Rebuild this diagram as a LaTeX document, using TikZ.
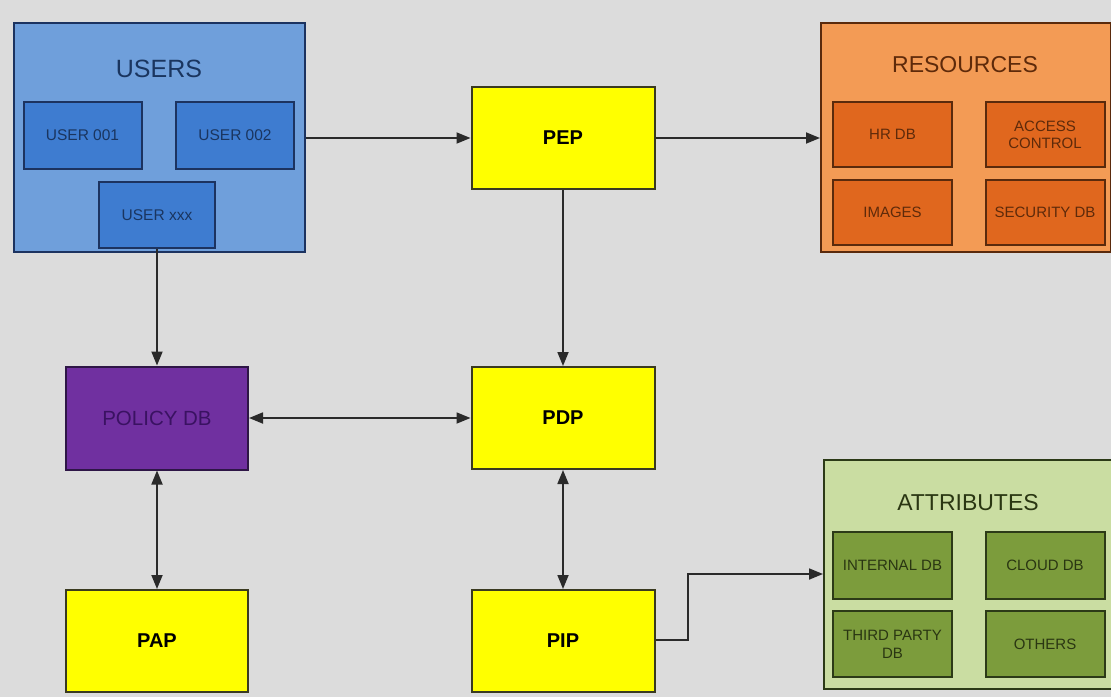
\documentclass[tikz,border=0pt]{standalone}
\usepackage{fontspec}
\setmainfont{Liberation Sans}
\usetikzlibrary{arrows.meta}

\definecolor{bg}{HTML}{DCDCDC}
\definecolor{usrout}{HTML}{6F9FDB}
\definecolor{usrin}{HTML}{3E7CD0}
\definecolor{usrline}{HTML}{1C3360}
\definecolor{usrtext}{HTML}{1A355F}
\definecolor{resout}{HTML}{F39B55}
\definecolor{resin}{HTML}{E0671E}
\definecolor{resline}{HTML}{5A2A0C}
\definecolor{restext}{HTML}{5E2A0A}
\definecolor{attout}{HTML}{CADDA2}
\definecolor{attin}{HTML}{7C9C3C}
\definecolor{attline}{HTML}{2C3A17}
\definecolor{atttext}{HTML}{2A3612}
\definecolor{polfill}{HTML}{7030A0}
\definecolor{polline}{HTML}{2E1646}
\definecolor{poltext}{HTML}{3A1262}
\definecolor{ylw}{HTML}{FFFF00}
\definecolor{ylwline}{HTML}{3A3A20}
\definecolor{conn}{HTML}{2A2A2A}

\tikzset{
  box/.style={draw, line width=2pt, inner sep=0pt, align=center},
  groupbox/.style={box, line width=2pt},
  usergroup/.style={groupbox, fill=usrout, draw=usrline},
  userbox/.style={box, fill=usrin, draw=usrline, text=usrtext,
    minimum width=118pt, minimum height=67pt, font=\fontsize{15.5}{17}\selectfont},
  resgroup/.style={groupbox, fill=resout, draw=resline},
  resbox/.style={box, fill=resin, draw=resline, text=restext,
    minimum width=119pt, minimum height=65pt, font=\fontsize{15}{17}\selectfont},
  attgroup/.style={groupbox, fill=attout, draw=attline},
  attbox/.style={box, fill=attin, draw=attline, text=atttext,
    minimum width=119pt, minimum height=66pt, font=\fontsize{15}{18}\selectfont},
  grouptitle/.style={inner sep=0pt, font=\fontsize{23}{26}\selectfont},
  pointbox/.style={box, fill=ylw, draw=ylwline, minimum width=183pt,
    minimum height=102pt, font=\bfseries\fontsize{20}{22}\selectfont},
  policybox/.style={box, fill=polfill, draw=polline, text=poltext,
    minimum width=182pt, minimum height=103pt, font=\fontsize{20.5}{22}\selectfont},
  link/.style={draw=conn, line width=1.8pt, -{Triangle[length=14pt, width=11pt]}},
  duplex/.style={draw=conn, line width=1.8pt,
    {Triangle[length=14pt, width=11pt]}-{Triangle[length=14pt, width=11pt]}}
}

\begin{document}
\begin{tikzpicture}[x=1pt, y=-1pt]
  % canvas
  \fill[bg] (0,0) rectangle (1111,697);
  \useasboundingbox (0,0) rectangle (1111,697);

  % user group
  \node[usergroup, minimum width=291pt, minimum height=229pt] (users) at (159.5,137.5) {};
  \node[grouptitle, text=usrtext, font=\fontsize{25}{28}\selectfont] (userstitle) at (159,69) {USERS};
  \node[userbox] (u1) at (82.5,135.5) {USER 001};
  \node[userbox] (u2) at (235,135.5) {USER 002};
  \node[userbox, minimum width=116pt, minimum height=66pt] (ux) at (157,215) {USER xxx};

  % resource group
  \node[resgroup, minimum width=290pt, minimum height=229pt] (res) at (966,137.5) {};
  \node[grouptitle, text=restext] (restitle) at (965,65) {RESOURCES};
  \node[resbox] (hr) at (892.5,134.5) {HR DB};
  \node[resbox] (ac) at (1045,134.5) {ACCESS\\CONTROL};
  \node[resbox] (img) at (892.5,212.5) {IMAGES};
  \node[resbox] (sec) at (1045,212.5) {SECURITY DB};

  % attribute group
  \node[attgroup, minimum width=288pt, minimum height=229pt] (att) at (968,574.5) {};
  \node[grouptitle, text=atttext] (atttitle) at (968,503) {ATTRIBUTES};
  \node[attbox, minimum height=67pt] (idb) at (892.5,565.5) {INTERNAL DB};
  \node[attbox, minimum height=67pt] (cdb) at (1045,565.5) {CLOUD DB};
  \node[attbox] (tdb) at (892.5,644) {THIRD PARTY\\DB};
  \node[attbox] (oth) at (1045,644) {OTHERS};

  % policy points
  \node[pointbox] (pep) at (563,138) {PEP};
  \node[pointbox] (pdp) at (563,418) {PDP};
  \node[pointbox] (pip) at (563,641) {PIP};
  \node[pointbox, minimum width=182pt] (pap) at (157,641) {PAP};
  \node[policybox] (pol) at (157,418) {POLICY DB};

  % connectors
  \draw[link] (users.east |- pep.west) -- (pep.west);
  \draw[link] (pep.east) -- (res.west |- pep.east);
  \draw[link] (pep.south) -- (pdp.north);
  \draw[link] (ux.south) -- (pol.north);
  \draw[duplex] (pol.east) -- (pdp.west);
  \draw[duplex] (pol.south) -- (pap.north);
  \draw[duplex] (pdp.south) -- (pip.north);
  \coordinate (bend) at (688,574);
  \draw[link] (pip.east |- 0,640) -| (bend) -- (att.west |- bend);
\end{tikzpicture}
\end{document}
